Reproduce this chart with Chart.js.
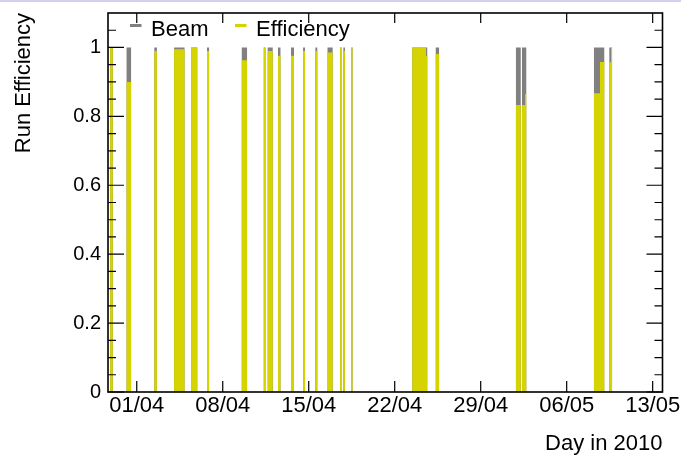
<!DOCTYPE html>
<html>
<head>
<meta charset="utf-8">
<script src="https://cdn.jsdelivr.net/npm/chart.js@4.4.0/dist/chart.umd.min.js"></script>
<style>
  html, body { margin: 0; padding: 0; background: #fff; }
  #wrap { position: relative; width: 681px; height: 455px; }
  #edge { position: absolute; left: 0; top: 0; width: 681px; height: 2px; background: #d2d2ee; }
</style>
</head>
<body>
<div id="wrap"><canvas id="c" width="681" height="455"></canvas><div id="edge"></div></div>
<script>
// Runs, x in days counted from 01/04/2010.
// Split bars (two efficiencies inside one fill) are kept as two adjacent runs.
var runStart = [-2.17, -0.83, 1.43, 3.04, 4.42, 5.72, 8.55, 10.34, 10.66, 11.50, 12.56, 13.54, 14.54, 15.53,
                16.55, 16.82, 17.47, 22.43, 23.55, 24.34, 30.87, 31.36, 31.61, 37.22, 37.71, 38.47, 38.61];
var runEnd   = [-1.95, -0.46, 1.64, 3.89, 4.93, 5.89, 8.98, 10.48, 11.07, 11.70, 12.80, 13.70, 14.70, 15.95,
                16.67, 16.95, 17.57, 23.55, 23.65, 24.61, 31.26, 31.61, 31.71, 37.71, 38.06, 38.61, 38.71];
var beamFrac = [1, 1, 1, 1, 1, 1, 1, 1, 1, 1, 1, 1, 1, 1, 1, 1, 1, 1, 1, 1, 1, 1, 1, 1, 1, 1, 1];
var effFrac  = [1.0, 0.90, 0.99, 0.995, 1.0, 0.99, 0.963, 1.0, 0.99, 0.976, 0.976, 0.99, 0.99, 0.985,
                1.0, 0.99, 1.0, 1.0, 0.976, 0.981, 0.833, 0.833, 0.865, 0.867, 0.958, 0.957, 1.0];

var tickDays   = [0, 7, 14, 21, 28, 35, 42];
var tickLabels = ['01/04', '08/04', '15/04', '22/04', '29/04', '06/05', '13/05'];
var yTicks      = [0, 0.2, 0.4, 0.6, 0.8, 1];
var yTickLabels = ['0', '0.2', '0.4', '0.6', '0.8', '1'];

var seriesNames  = ['Beam', 'Efficiency'];
var seriesColors = ['#808080', '#d5d300'];

var FONT = '"Liberation Sans", Arial, sans-serif';

// histogram outline: up at run start, across, down at run end
function steps(vals) {
    var pts = [];
    for (var i = 0; i < runStart.length; i++) {
        pts.push({ x: runStart[i], y: 0 }, { x: runStart[i], y: vals[i] },
                 { x: runEnd[i], y: vals[i] }, { x: runEnd[i], y: 0 });
    }
    return pts;
}

// ROOT style frame: inward ticks on all four sides + legend box in the pad
var frame = {
    id: 'frame',
    afterDraw: function (chart) {
        var ctx = chart.ctx, a = chart.chartArea, xs = chart.scales.x, ys = chart.scales.y;
        ctx.save();
        ctx.strokeStyle = '#000';
        ctx.lineWidth = 1.2;
        ctx.beginPath();
        for (var k = 0; k <= 21; k++) {
            var py = ys.getPixelForValue(k * 0.05);
            var len = (k % 4 === 0) ? 16 : 8;
            ctx.moveTo(a.left, py); ctx.lineTo(a.left + len, py);
            ctx.moveTo(a.right, py); ctx.lineTo(a.right - len, py);
        }
        tickDays.forEach(function (d) {
            var px = xs.getPixelForValue(d);
            ctx.moveTo(px, a.bottom); ctx.lineTo(px, a.bottom - 11);
            ctx.moveTo(px, a.top); ctx.lineTo(px, a.top + 10);
        });
        ctx.stroke();
        ctx.lineWidth = 1.6;
        ctx.strokeRect(a.left, a.top, a.right - a.left, a.bottom - a.top);

        var legendX = [130, 235];
        ctx.font = '22px ' + FONT;
        ctx.textBaseline = 'alphabetic';
        ctx.textAlign = 'left';
        for (var i = 0; i < seriesNames.length; i++) {
            ctx.strokeStyle = seriesColors[i];
            ctx.lineWidth = 3;
            ctx.beginPath();
            ctx.moveTo(legendX[i], 25.5);
            ctx.lineTo(legendX[i] + 11.5, 25.5);
            ctx.stroke();
            ctx.fillStyle = '#000';
            ctx.fillText(seriesNames[i], legendX[i] + 21, 36);
        }
        ctx.restore();
    }
};

new Chart(document.getElementById('c'), {
    type: 'line',
    data: {
        datasets: [
            { label: seriesNames[0], data: steps(beamFrac), backgroundColor: seriesColors[0],
              borderWidth: 0, pointRadius: 0, fill: 'origin', order: 1 },
            { label: seriesNames[1], data: steps(effFrac), backgroundColor: seriesColors[1],
              borderWidth: 0, pointRadius: 0, fill: 'origin', order: 0 }
        ]
    },
    options: {
        responsive: false,
        animation: false,
        events: [],
        layout: { padding: { left: 0, top: 13, right: 18.5, bottom: 0 } },
        plugins: { legend: { display: false }, tooltip: { enabled: false } },
        scales: {
            x: {
                type: 'linear', min: -2.34, max: 42.8,
                afterBuildTicks: function (s) { s.ticks = tickDays.map(function (v) { return { value: v }; }); },
                afterFit: function (s) { s.height = 63; s.paddingLeft = 0; s.paddingRight = 0; },
                grid: { display: false, drawTicks: false },
                border: { display: false },
                ticks: {
                    autoSkip: false, maxRotation: 0, minRotation: 0, padding: 1, color: '#000',
                    font: { family: FONT, size: 22 },
                    callback: function (v) { return tickLabels[tickDays.indexOf(v)]; }
                },
                title: { display: true, text: 'Day in 2010', align: 'end', color: '#000',
                         font: { family: FONT, size: 22, lineHeight: 1 }, padding: 0 }
            },
            y: {
                min: 0, max: 1.1,
                afterBuildTicks: function (s) { s.ticks = yTicks.map(function (v) { return { value: v }; }); },
                afterFit: function (s) { s.width = 108; s.paddingTop = 0; s.paddingBottom = 0; },
                grid: { display: false, drawTicks: false },
                border: { display: false },
                ticks: {
                    padding: 7, color: '#000', font: { family: FONT, size: 20 },
                    callback: function (v) { return yTickLabels[yTicks.indexOf(v)]; }
                },
                title: { display: true, text: 'Run Efficiency', align: 'end', color: '#000',
                         font: { family: FONT, size: 22 }, padding: { top: 11, bottom: 0 } }
            }
        }
    },
    plugins: [frame]
});
</script>
</body>
</html>
